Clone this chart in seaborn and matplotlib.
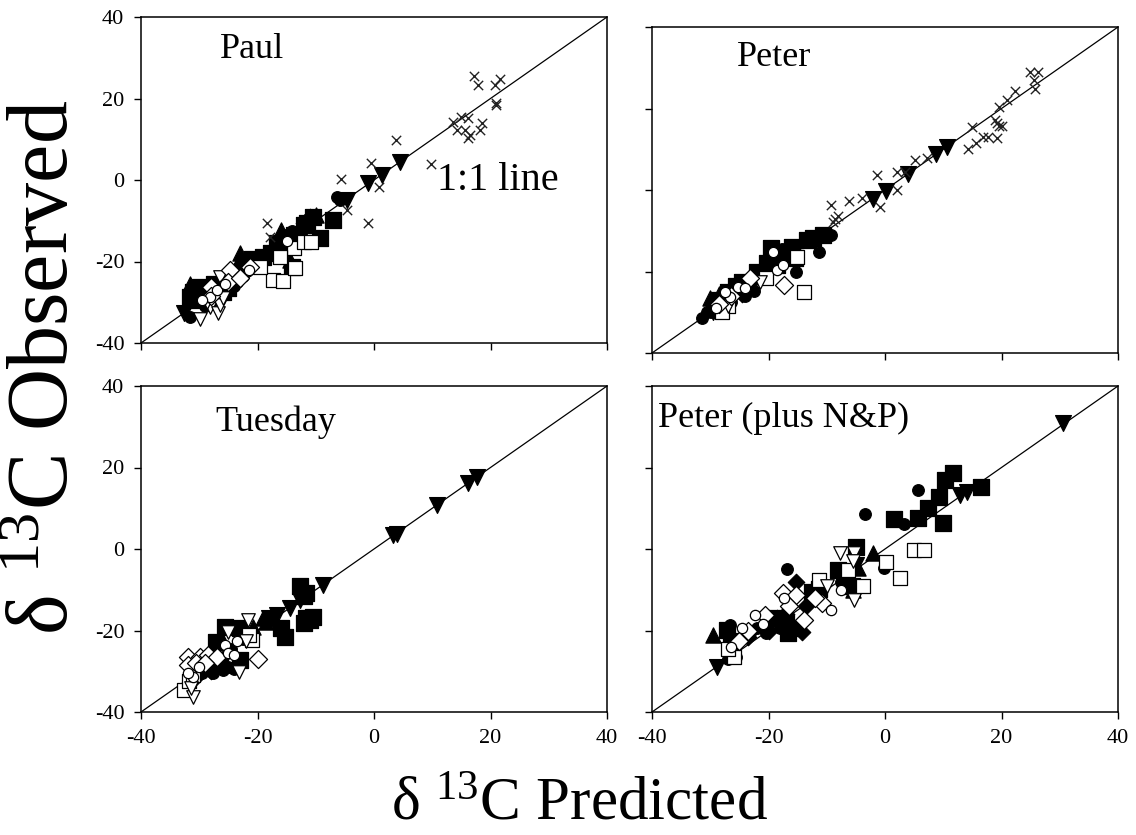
import numpy as np
import pandas as pd
import seaborn as sns
import matplotlib
matplotlib.use("Agg")
import matplotlib.pyplot as plt

# ---- data: (predicted, observed) pairs ----
# Paul
paul_cross = [(17.1, 25.4), (17.9, 23.3), (20.8, 23.3), (21.6, 24.9), (20.9, 18.8), (20.9, 18.4),
              (13.6, 14.3), (15.0, 15.5), (16.2, 15.1), (14.2, 12.3), (15.6, 12.3), (16.5, 11.0),
              (16.2, 10.2), (18.2, 12.3), (18.5, 13.9), (3.8, 9.8), (-0.6, 4.1), (9.7, 3.9),
              (-5.6, 0.2), (0.8, -1.6), (-4.7, -7.4), (-1.1, -10.6), (-18.4, -10.6), (-17.9, -13.9)]
paul_tri_down = [(4.5, 4.5), (1.3, 1.2), (-1.0, -0.8), (-4.7, -4.9), (-32.7, -32.7), (-20.5, -20.0),
                 (-24.5, -26.5)]
paul_circle = [(-6.4, -4.1), (-5.8, -4.9), (-31.6, -33.5), (-20.3, -21.0), (-26.0, -28.0), (-25.0, -27.0),
               (-24.0, -26.0), (-22.5, -23.5), (-15.5, -13.5), (-14.0, -12.5), (-12.5, -13.0),
               (-29.0, -31.0), (-30.5, -30.0), (-23.5, -25.0), (-27.5, -29.5)]
paul_square = [(-7.0, -9.8), (-10.4, -9.0), (-9.2, -14.3), (-11.5, -10.5), (-13.8, -13.5), (-16.7, -15.5),
               (-19.0, -18.8), (-17.6, -18.0), (-14.1, -21.3), (-29.9, -26.2), (-31.6, -28.7),
               (-28.5, -27.0), (-27.5, -25.5), (-30.5, -29.5), (-26.0, -27.5), (-25.0, -26.5),
               (-21.0, -19.5), (-12.0, -11.0), (-15.0, -15.0), (-31.0, -27.5)]
paul_tri_up = [(-31.6, -25.4), (-23.0, -18.0), (-23.0, -19.3), (-15.9, -12.3), (-14.4, -19.6),
               (-23.5, -21.0), (-28.0, -26.5), (-31.5, -27.5), (-10.0, -8.5)]
paul_diamond = [(-12.1, -10.6), (-25.9, -26.2), (-23.5, -24.0), (-27.0, -28.5), (-30.0, -29.0),
                (-16.5, -16.0), (-11.0, -9.0), (-24.5, -22.5)]
paul_open_square = [(-17.3, -24.5), (-15.6, -24.9), (-13.6, -21.7), (-13.8, -16.8), (-16.1, -18.8),
                    (-19.6, -21.3), (-12.1, -15.1), (-10.9, -15.1)]
paul_open_tri_down = [(-29.9, -34.2), (-28.2, -31.1), (-26.7, -32.7), (-26.4, -30.7), (-26.5, -23.7),
                      (-28.7, -30.0), (-26.0, -29.0)]
paul_open_diamond = [(-24.7, -22.1), (-27.9, -26.2), (-21.3, -21.3), (-28.0, -28.5), (-25.0, -25.0),
                     (-23.0, -24.0)]
paul_open_circle = [(-28.2, -28.8), (-29.5, -29.5), (-27.0, -27.0), (-25.5, -25.5), (-15.0, -15.0),
                    (-21.5, -22.0)]

# Peter
peter_cross = [(24.9, 29.0), (26.2, 29.0), (25.6, 27.0), (25.8, 24.7), (22.4, 24.4), (21.0, 22.1),
               (19.5, 20.3), (18.9, 17.2), (19.5, 15.7), (20.0, 15.7), (19.2, 12.7), (14.9, 15.5),
               (14.3, 10.0), (15.7, 11.5), (16.9, 13.1), (17.7, 13.1), (19.2, 16.4), (7.2, 7.8),
               (5.2, 7.4), (2.0, 4.5), (3.4, 4.5), (-1.4, 3.7), (2.0, 0.0), (-0.9, -4.1),
               (-4.0, -2.0), (-6.1, -2.6), (-9.3, -3.7), (-8.6, -7.0), (-8.0, -6.5), (-8.9, -7.8)]
peter_tri_down = [(10.6, 10.6), (8.8, 8.8), (4.0, 3.9), (0.2, -0.2), (-2.0, -2.3), (-29.5, -30.0),
                  (-24.0, -24.5)]
peter_square = [(-12.3, -11.9), (-10.6, -11.0), (-19.5, -14.3), (-15.5, -16.8), (-17.7, -16.0),
                (-20.3, -18.0), (-13.4, -12.3), (-22.0, -20.0), (-24.5, -22.5), (-27.0, -25.0),
                (-28.5, -27.0), (-25.5, -23.5), (-21.5, -21.0), (-18.5, -18.5), (-16.0, -14.0)]
peter_circle = [(-9.2, -11.0), (-11.4, -15.1), (-17.6, -14.6), (-15.2, -20.2), (-22.5, -24.7),
                (-29.8, -29.9), (-15.1, -16.4), (-31.5, -31.5), (-30.5, -30.0), (-26.5, -27.5),
                (-24.0, -26.0), (-28.0, -28.0), (-23.0, -21.5), (-29.0, -28.5)]
peter_tri_up = [(-30.0, -26.5), (-28.5, -25.5), (-25.0, -22.5), (-22.5, -21.0), (-27.5, -27.5),
                (-19.0, -17.5), (-26.5, -24.0)]
peter_diamond = [(-26.0, -23.5), (-23.0, -22.5), (-29.0, -27.5), (-20.0, -19.0), (-28.0, -29.5),
                 (-24.5, -25.5), (-21.0, -20.0)]
peter_open_square = [(-13.9, -25.0), (-15.1, -16.4), (-27.0, -28.5), (-28.0, -30.0), (-20.5, -21.5)]
peter_open_diamond = [(-17.3, -23.3), (-23.2, -21.7), (-26.5, -26.0), (-28.5, -28.0)]
peter_open_circle = [(-19.2, -15.1), (-18.6, -19.6), (-25.2, -23.7), (-26.6, -26.2), (-27.5, -25.0),
                     (-24.0, -24.0), (-29.0, -29.0), (-17.5, -18.5)]
peter_open_tri_down = [(-27.0, -28.5), (-21.5, -22.5)]

# Tuesday
tues_tri_down = [(17.6, 17.75), (16.2, 16.1), (10.8, 10.8), (3.3, 3.4), (3.9, 3.8), (-8.8, -8.8),
                 (-12.7, -12.5), (-14.4, -14.6), (-16.7, -16.2), (-18.1, -17.0)]
tues_square = [(-12.7, -9.2), (-11.6, -10.9), (-11.6, -17.0), (-12.1, -18.2), (-10.4, -16.6),
               (-15.9, -19.5), (-15.3, -21.5), (-25.6, -19.1), (-23.0, -19.5), (-27.1, -22.7),
               (-23.0, -27.2), (-12.0, -11.5), (-11.0, -17.5)]
tues_tri_up = [(-19.0, -17.0), (-17.6, -17.0), (-20.7, -19.1), (-18.5, -18.0)]
tues_circle = [(-28.7, -29.7), (-25.9, -29.7), (-27.6, -30.5), (-25.0, -29.0), (-27.0, -28.5),
               (-29.5, -30.5), (-24.5, -24.5), (-22.5, -22.0), (-21.5, -20.5), (-26.5, -22.5),
               (-29.5, -28.0), (-30.5, -29.0), (-26.0, -26.5), (-24.0, -29.5), (-28.0, -29.0)]
tues_diamond = [(-28.0, -30.0), (-30.5, -31.5)]
tues_open_tri_down = [(-21.6, -17.4), (-23.1, -30.1), (-31.0, -36.2), (-25.0, -20.3), (-31.5, -34.0),
                      (-22.0, -22.5)]
tues_open_diamond = [(-19.9, -27.1), (-31.9, -26.4), (-29.9, -26.4), (-32.0, -28.5), (-28.5, -26.0),
                     (-27.0, -26.5), (-30.5, -28.0), (-29.0, -28.0)]
tues_open_square = [(-32.7, -34.6), (-21.0, -22.3), (-31.8, -32.5), (-21.5, -21.0), (-31.0, -31.0)]
tues_open_circle = [(-25.5, -23.5), (-25.0, -25.5), (-31.0, -31.5), (-32.0, -30.5), (-30.0, -29.0),
                    (-23.5, -22.5), (-24.0, -26.0)]

# Peter (plus N&P)
pnp_tri_down = [(30.5, 30.8), (12.9, 13.3), (14.0, 14.1), (-28.9, -28.9), (-4.9, -3.9)]
pnp_square = [(11.7, 18.6), (10.3, 16.9), (16.4, 15.3), (9.3, 12.8), (7.3, 10.0), (5.7, 7.5),
              (10.0, 6.3), (1.6, 7.3), (-4.9, 0.6), (-8.0, -5.2), (-11.4, -9.7), (-5.6, -9.2),
              (-16.6, -20.7), (-27.2, -19.9), (-17.0, -18.0), (-19.0, -17.0), (-26.5, -22.5),
              (-12.5, -10.5), (-16.0, -19.5)]
pnp_circle = [(5.7, 14.6), (-3.5, 8.5), (3.3, 6.1), (6.3, -0.2), (-0.1, -4.6), (-16.8, -5.0),
              (-11.6, -12.5), (-26.6, -18.7), (-7.5, -8.0), (-22.0, -19.5), (-20.5, -20.5),
              (-27.0, -27.0), (-25.5, -26.5), (-18.0, -19.5), (-23.0, -20.0)]
pnp_tri_up = [(-2.0, -1.1), (-4.6, -4.7), (-29.5, -21.1), (-5.5, -10.0), (-17.0, -14.5)]
pnp_diamond = [(-15.3, -8.0), (-14.3, -20.3), (-15.5, -11.5), (-17.0, -16.0), (-20.0, -20.0),
               (-18.5, -17.0), (-13.5, -14.0), (-23.5, -21.5)]
pnp_open_square = [(0.2, -3.1), (2.6, -7.2), (4.9, -0.2), (6.7, -0.2), (-11.3, -7.6), (-3.7, -9.2),
                   (-6.3, -5.2), (-26.0, -26.5), (-27.0, -24.5)]
pnp_open_tri_down = [(-7.7, -0.9), (-5.4, -0.9), (-5.3, -12.5), (-5.5, -3.0), (-10.0, -9.0)]
pnp_open_diamond = [(-17.5, -10.9), (-15.2, -11.3), (-20.6, -16.2), (-10.9, -13.3), (-13.9, -17.4),
                    (-23.5, -20.0), (-25.0, -22.5), (-16.5, -14.0), (-12.0, -12.0)]
pnp_open_circle = [(-9.2, -15.0), (-17.3, -12.1), (-22.3, -16.2), (-24.6, -19.5), (-7.6, -10.1),
                   (-26.5, -24.0), (-21.0, -18.5)]

panels = {
    "Paul": {"square": paul_square, "circle": paul_circle, "tri_up": paul_tri_up,
             "diamond": paul_diamond, "tri_down": paul_tri_down, "open_square": paul_open_square,
             "open_tri_down": paul_open_tri_down, "open_diamond": paul_open_diamond,
             "open_circle": paul_open_circle, "cross": paul_cross},
    "Peter": {"square": peter_square, "circle": peter_circle, "tri_up": peter_tri_up,
              "diamond": peter_diamond, "tri_down": peter_tri_down, "open_square": peter_open_square,
              "open_tri_down": peter_open_tri_down, "open_diamond": peter_open_diamond,
              "open_circle": peter_open_circle, "cross": peter_cross},
    "Tuesday": {"square": tues_square, "circle": tues_circle, "tri_up": tues_tri_up,
                "diamond": tues_diamond, "tri_down": tues_tri_down, "open_square": tues_open_square,
                "open_tri_down": tues_open_tri_down, "open_diamond": tues_open_diamond,
                "open_circle": tues_open_circle},
    "Peter (plus N&P)": {"square": pnp_square, "circle": pnp_circle, "tri_up": pnp_tri_up,
                         "diamond": pnp_diamond, "tri_down": pnp_tri_down,
                         "open_square": pnp_open_square, "open_tri_down": pnp_open_tri_down,
                         "open_diamond": pnp_open_diamond, "open_circle": pnp_open_circle},
}

rows = []
for panel, groups in panels.items():
    for kind, pts in groups.items():
        for p, o in pts:
            rows.append({"panel": panel, "kind": kind, "pred": p, "obs": o})
df = pd.DataFrame(rows)

# marker look per kind: (marker, face, size)
styles = {
    "square": ("s", "black", 125),
    "circle": ("o", "black", 70),
    "tri_up": ("^", "black", 120),
    "diamond": ("D", "black", 70),
    "tri_down": ("v", "black", 130),
    "open_square": ("s", "white", 100),
    "open_tri_down": ("v", "white", 95),
    "open_diamond": ("D", "white", 85),
    "open_circle": ("o", "white", 55),
    "cross": ("x", "black", 45),
}

sns.set_theme(style="ticks")
plt.rcParams["font.family"] = ["Liberation Serif", "DejaVu Serif"]
plt.rcParams["mathtext.fontset"] = "custom"
plt.rcParams["mathtext.rm"] = "Liberation Serif"
plt.rcParams["axes.edgecolor"] = "black"
plt.rcParams["xtick.color"] = "black"
plt.rcParams["ytick.color"] = "black"
plt.rcParams["text.color"] = "black"
plt.rcParams["axes.unicode_minus"] = False

fig = plt.figure(figsize=(11.36, 8.35), dpi=100)

W, H = 1136, 835
boxes = {  # left, top, right, bottom in pixels
    "Paul": (141, 17, 607, 343),
    "Peter": (652, 27, 1118, 353),
    "Tuesday": (141, 386, 607, 712),
    "Peter (plus N&P)": (652, 386, 1118, 712),
}
label_pos = {
    "Paul": (0.17, 0.9),
    "Peter": (0.182, 0.905),
    "Tuesday": (0.159, 0.89),
    "Peter (plus N&P)": (0.013, 0.9),
}

for panel, (l, t, r, b) in boxes.items():
    ax = fig.add_axes([l / W, 1 - b / H, (r - l) / W, (b - t) / H])
    ax.plot([-40, 40], [-40, 40], color="black", lw=0.9, zorder=1)
    sub = df[df["panel"] == panel]
    for kind, (mk, face, size) in styles.items():
        d = sub[sub["kind"] == kind]
        if d.empty:
            continue
        if kind == "cross":
            sns.scatterplot(data=d, x="pred", y="obs", marker="x", s=size, color="#222222",
                            linewidth=1.0, ax=ax, zorder=3)
        else:
            sns.scatterplot(data=d, x="pred", y="obs", marker=mk, s=size, facecolor=face,
                            edgecolor="black", linewidth=0.9, ax=ax, zorder=2)
    ax.set_xlim(-40, 40)
    ax.set_ylim(-40, 40)
    ax.set_xticks([-40, -20, 0, 20, 40])
    ax.set_yticks([-40, -20, 0, 20, 40])
    ax.set_xlabel("")
    ax.set_ylabel("")
    ax.tick_params(direction="out", length=5, width=1, labelsize=16, pad=7)
    if panel in ("Paul", "Peter"):
        ax.tick_params(labelbottom=False)
    if panel in ("Peter", "Peter (plus N&P)"):
        ax.tick_params(labelleft=False)
    for sp in ax.spines.values():
        sp.set_visible(True)
        sp.set_linewidth(1.1)
        sp.set_color("black")
    lx, ly = label_pos[panel]
    ax.text(lx, ly, panel, transform=ax.transAxes, ha="left", va="center", fontsize=26)
    if panel == "Paul":
        ax.text(0.635, 0.5, "1:1 line", transform=ax.transAxes, ha="left", va="center",
                fontsize=29)

fig.text(0.042, 0.56, r"δ $\mathregular{^{13}}$C Observed", rotation=90, ha="center",
         va="center", fontsize=62)
fig.text(0.51, 0.036, r"δ $\mathregular{^{13}}$C Predicted", ha="center", va="center",
         fontsize=44)

fig.savefig("out.png", dpi=100)
